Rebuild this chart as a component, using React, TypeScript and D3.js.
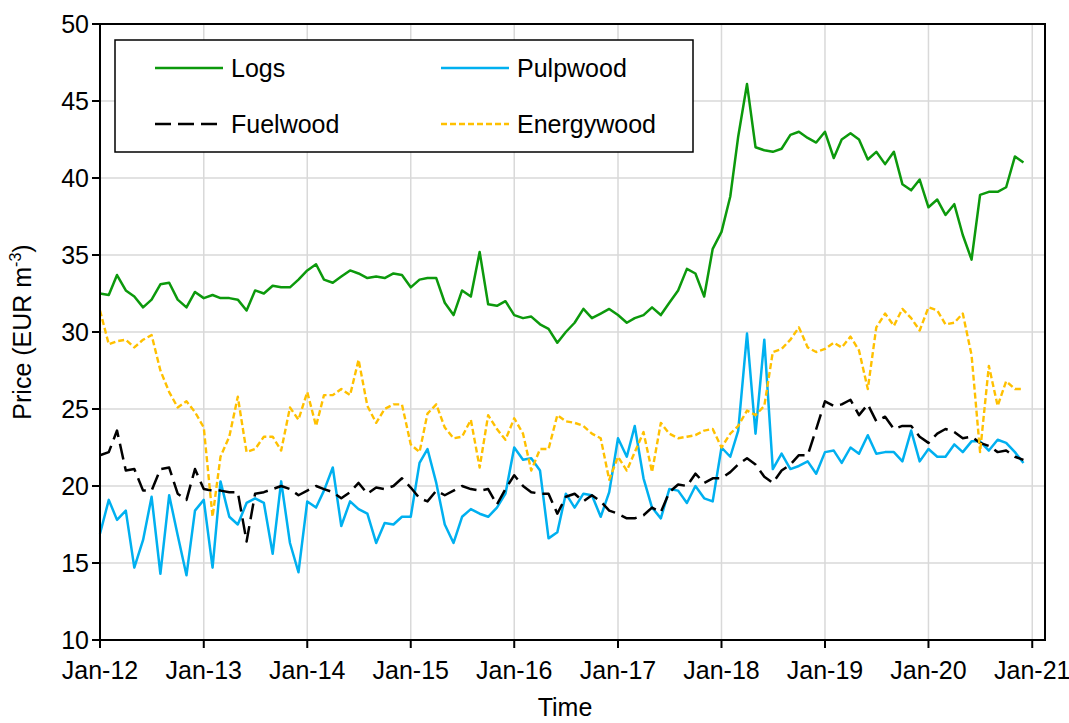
import React from "react";
import * as d3 from "d3";

// monthly prices, Jan 2012 .. Dec 2020
const logs = [
  32.5, 32.4, 33.7, 32.7, 32.3, 31.6, 32.1, 33.1, 33.2, 32.1, 31.6, 32.6,
  32.2, 32.4, 32.2, 32.2, 32.1, 31.4, 32.7, 32.5, 33.0, 32.9, 32.9, 33.4,
  34.0, 34.4, 33.4, 33.2, 33.6, 34.0, 33.8, 33.5, 33.6, 33.5, 33.8, 33.7,
  32.9, 33.4, 33.5, 33.5, 31.9, 31.1, 32.7, 32.3, 35.2, 31.8, 31.7, 32.0,
  31.1, 30.9, 31.0, 30.5, 30.2, 29.3, 30.0, 30.6, 31.5, 30.9, 31.2, 31.5,
  31.1, 30.6, 30.9, 31.1, 31.6, 31.1, 31.9, 32.7, 34.1, 33.8, 32.3, 35.4,
  36.5, 38.8, 42.7, 46.1, 42.0, 41.8, 41.7, 41.9, 42.8, 43.0, 42.6, 42.3,
  43.0, 41.3, 42.5, 42.9, 42.5, 41.2, 41.7, 40.9, 41.7, 39.6, 39.2, 39.9,
  38.1, 38.6, 37.6, 38.3, 36.3, 34.7, 38.9, 39.1, 39.1, 39.4, 41.4, 41.0,
];

const pulpwood = [
  16.9, 19.1, 17.8, 18.4, 14.7, 16.5, 19.3, 14.3, 19.4, 16.8, 14.2, 18.4,
  19.1, 14.7, 20.3, 18.0, 17.5, 18.9, 19.2, 18.9, 15.6, 20.3, 16.3, 14.4,
  19.0, 18.6, 19.7, 21.2, 17.4, 19.0, 18.5, 18.2, 16.3, 17.6, 17.5, 18.0,
  18.0, 21.5, 22.4, 20.2, 17.5, 16.3, 18.0, 18.5, 18.2, 18.0, 18.6, 19.5,
  22.5, 21.7, 21.8, 21.0, 16.6, 17.0, 19.5, 18.6, 19.5, 19.4, 18.0, 19.6,
  23.1, 21.9, 23.9, 20.5, 18.6, 17.9, 19.8, 19.7, 18.9, 20.0, 19.2, 19.0,
  22.5, 21.9, 23.6, 29.9, 23.4, 29.5, 21.1, 22.1, 21.1, 21.3, 21.6, 20.8,
  22.2, 22.3, 21.5, 22.5, 22.1, 23.3, 22.1, 22.2, 22.2, 21.6, 23.6, 21.6,
  22.4, 21.9, 21.9, 22.7, 22.2, 22.9, 22.9, 22.3, 23.0, 22.8, 22.2, 21.5,
];

const fuelwood = [
  22.0, 22.2, 23.6, 21.0, 21.1, 19.7, 19.7, 21.1, 21.2, 19.5, 19.1, 21.1,
  19.8, 19.7, 19.7, 19.6, 19.6, 16.4, 19.5, 19.6, 19.8, 20.0, 19.8, 19.4,
  19.7, 20.0, 19.8, 19.6, 19.2, 19.6, 20.2, 19.5, 19.9, 19.8, 20.0, 20.5,
  19.9, 19.2, 19.0, 19.7, 19.4, 19.7, 20.0, 19.8, 19.7, 19.8, 18.8, 19.8,
  20.7, 20.0, 19.6, 19.5, 19.5, 18.2, 19.3, 19.5, 19.0, 19.4, 19.0, 18.4,
  18.2, 17.9, 17.9, 18.1, 18.6, 18.3, 19.6, 20.1, 20.0, 20.8, 20.2, 20.5,
  20.5, 20.9, 21.4, 21.8, 21.4, 20.6, 20.2, 21.0, 21.4, 22.0, 22.0, 23.7,
  25.5, 25.2, 25.3, 25.6, 24.6, 25.3, 24.2, 24.5, 23.7, 23.9, 23.9, 23.2,
  22.8, 23.4, 23.7, 23.5, 23.1, 23.2, 22.8, 22.6, 22.2, 22.3, 21.9, 21.7,
];

const energywood = [
  31.4, 29.2, 29.4, 29.5, 29.0, 29.5, 29.8, 27.5, 26.1, 25.1, 25.5, 24.8,
  23.8, 18.0, 21.9, 23.2, 25.8, 22.2, 22.4, 23.2, 23.2, 22.3, 25.1, 24.3,
  26.1, 23.9, 25.9, 25.9, 26.3, 25.9, 28.2, 25.2, 24.1, 25.0, 25.3, 25.3,
  22.7, 22.2, 24.7, 25.3, 23.8, 23.1, 23.2, 24.3, 21.2, 24.6, 23.7, 23.0,
  24.4, 23.4, 21.0, 22.4, 22.4, 24.6, 24.2, 24.1, 23.9, 23.4, 23.1, 20.4,
  21.9, 21.0, 22.2, 23.5, 20.9, 24.1, 23.4, 23.1, 23.2, 23.3, 23.6, 23.7,
  22.5, 23.4, 23.9, 24.9, 24.6, 25.2, 28.7, 28.9, 29.5, 30.3, 29.0, 28.7,
  28.9, 29.3, 29.0, 29.7, 28.8, 26.3, 30.3, 31.2, 30.4, 31.5, 30.9, 30.1,
  31.6, 31.4, 30.5, 30.6, 31.2, 28.5, 22.2, 27.8, 25.2, 26.8, 26.3, 26.3,
];

const yTicks = [10, 15, 20, 25, 30, 35, 40, 45, 50];
const yearTicks = ["Jan-12", "Jan-13", "Jan-14", "Jan-15", "Jan-16", "Jan-17", "Jan-18", "Jan-19", "Jan-20", "Jan-21"];

const FONT = "'Liberation Sans', Arial, sans-serif";
const FS = 25;

const series = [
  { name: "Logs", values: logs, color: "#0c990c", width: 2.5, dash: "" },
  { name: "Pulpwood", values: pulpwood, color: "#00b0f0", width: 2.5, dash: "" },
  { name: "Fuelwood", values: fuelwood, color: "#000000", width: 2.5, dash: "16,7" },
  { name: "Energywood", values: energywood, color: "#ffc000", width: 2.4, dash: "6,3" },
];

const App: React.FC = () => {
  const left = 100, right = 1045, top = 24, bottom = 640;

  const x = d3.scaleTime()
    .domain([new Date(2012, 0, 1), new Date(2021, 1, 15)])
    .range([left, right]);
  const y = d3.scaleLinear().domain([10, 50]).range([bottom, top]);

  const months = logs.map((_, i) => new Date(2012, i, 1));
  const yearDates = yearTicks.map((_, i) => new Date(2012 + i, 0, 1));

  const line = d3.line<number>()
    .x((_d, i) => x(months[i]))
    .y((d) => y(d));

  // legend layout
  const legendItems = [
    { s: series[0], lx: 155, ly: 68 },
    { s: series[1], lx: 441, ly: 68 },
    { s: series[2], lx: 155, ly: 124 },
    { s: series[3], lx: 441, ly: 124 },
  ];

  return (
    <svg width={1069} height={723} style={{ position: "absolute", left: 0, top: 0, background: "#fff" }}
      fontFamily={FONT}>
      {/* gridlines */}
      {yTicks.map((t) => (
        <line key={"gy" + t} x1={left} x2={right} y1={y(t)} y2={y(t)} stroke="#d9d9d9" strokeWidth={1.5} />
      ))}
      {yearDates.map((d, i) => (
        <line key={"gx" + i} x1={x(d)} x2={x(d)} y1={top} y2={bottom} stroke="#d9d9d9" strokeWidth={1.5} />
      ))}

      {/* series */}
      {series.map((s) => (
        <path key={s.name} d={line(s.values) || ""} fill="none" stroke={s.color}
          strokeWidth={s.width} strokeDasharray={s.dash || undefined} strokeLinejoin="round" />
      ))}

      {/* frame */}
      <rect x={left} y={top} width={right - left} height={bottom - top} fill="none" stroke="#000" strokeWidth={2} />

      {/* y axis */}
      {yTicks.map((t) => (
        <g key={"yt" + t}>
          <line x1={left - 8} x2={left} y1={y(t)} y2={y(t)} stroke="#000" strokeWidth={2} />
          <text x={left - 11} y={y(t)} textAnchor="end" dominantBaseline="central" fontSize={FS}>{t}</text>
        </g>
      ))}

      {/* x axis */}
      {yearDates.map((d, i) => (
        <g key={"xt" + i}>
          <line x1={x(d)} x2={x(d)} y1={bottom} y2={bottom + 8} stroke="#000" strokeWidth={2} />
          <text x={x(d)} y={679} textAnchor="middle" fontSize={FS}>{yearTicks[i]}</text>
        </g>
      ))}

      <text x={565} y={716} textAnchor="middle" fontSize={FS}>Time</text>
      <text transform={`translate(31,${(top + bottom) / 2}) rotate(-90)`} textAnchor="middle" fontSize={FS}>
        Price (EUR m<tspan dy={-10} fontSize={16}>-3</tspan><tspan dy={10}>)</tspan>
      </text>

      {/* legend */}
      <rect x={115} y={40} width={578} height={112} fill="#fff" stroke="#000" strokeWidth={1.5} />
      {legendItems.map(({ s, lx, ly }) => (
        <g key={"lg" + s.name}>
          <line x1={lx} x2={lx + 68} y1={ly} y2={ly} stroke={s.color} strokeWidth={s.width}
            strokeDasharray={s.dash || undefined} />
          <text x={lx + 76} y={ly} dominantBaseline="central" fontSize={FS}>{s.name}</text>
        </g>
      ))}
    </svg>
  );
};

export default App;
